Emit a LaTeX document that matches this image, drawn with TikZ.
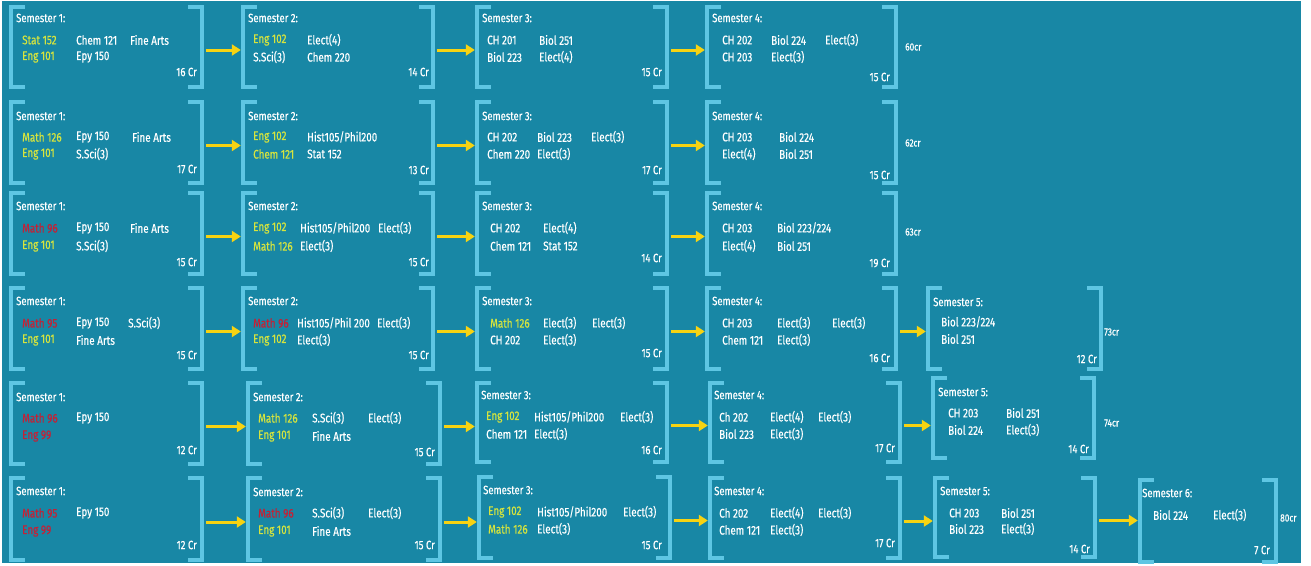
\documentclass[tikz,border=0pt]{standalone}
\usepackage{fontspec}
\setmainfont{Fira Sans}[FakeStretch=0.79, FakeBold=0.4]
\usetikzlibrary{arrows.meta,fit}
\definecolor{bgc}{HTML}{1887A5}
\definecolor{brkc}{HTML}{5EC6E3}
\definecolor{yg}{HTML}{D6E43E}
\definecolor{rd}{HTML}{C42136}
\definecolor{arc}{HTML}{F7D312}
\newcounter{tn}
\tikzset{
 brkline/.style={draw=brkc, line width=4pt, line join=miter},
 hdtext/.style={anchor=west, inner sep=0, text=white, font=\fontsize{12}{14}\selectfont},
 crstext/.style={anchor=west, inner sep=0, text=white, font=\fontsize{12.5}{14}\selectfont},
 crtext/.style={anchor=east, inner sep=0, text=white, font=\fontsize{12}{14}\selectfont},
 tottext/.style={anchor=west, inner sep=0, text=white, font=\fontsize{10.5}{12}\selectfont},
 arr/.style={draw=arc, line width=3pt, -{Triangle[length=9pt,width=11pt]}, shorten >=2pt, shorten <=4pt}
}
\newcommand\semb[5]{%
  \coordinate (#1nw) at (#2,#4); \coordinate (#1se) at (#3,#5);
  \node[inner sep=0, fit=(#1nw)(#1se)] (#1) {};
  \draw[brkline] ([xshift=14pt]#1.north west) -- (#1.north west) -- (#1.south west) -- ([xshift=14pt]#1.south west);
  \draw[brkline] ([xshift=-14pt]#1.north east) -- (#1.north east) -- (#1.south east) -- ([xshift=-14pt]#1.south east);
}
\newcommand\ctext[4][white]{\stepcounter{tn}\node[crstext, text=#1] (t\thetn) at (#2,#3) {#4};}
\newcommand\semhd[3]{\stepcounter{tn}\node[hdtext] (t\thetn) at (#1,#2) {#3};}
\newcommand\credit[3]{\stepcounter{tn}\node[crtext] (t\thetn) at (#1,#2) {#3};}
\newcommand\total[3]{\stepcounter{tn}\node[tottext] (t\thetn) at (#1,#2) {#3};}
\newcommand\link[2]{\draw[arr] ([yshift=-3pt]#1.east) -- ([yshift=-3pt]#1.east -| #2.west);}
\begin{document}
\begin{tikzpicture}[x=1pt,y=-1pt]
\useasboundingbox (0,0) rectangle (1311,565);
\fill[bgc] (2,1) rectangle (1301,563);

% ---------- Row 1 ----------
\semb{aA}{11}{202}{7}{87}
\semhd{16}{18}{Semester 1:}
\ctext[yg]{22}{40}{Stat 152}\ctext{76}{40}{Chem 121}\ctext{130}{40}{Fine Arts}
\ctext[yg]{22}{57}{Eng 101}\ctext{76}{57}{Epy 150}
\credit{197}{72}{16 Cr}
\semb{aB}{243}{433}{7}{87}
\semhd{248}{18}{Semester 2:}
\ctext[yg]{253}{40}{Eng 102}\ctext{307}{40}{Elect(4)}
\ctext{253}{57}{S.Sci(3)}\ctext{307}{57}{Chem 220}
\credit{429}{72}{14 Cr}
\semb{aC}{477}{667}{7}{87}
\semhd{482}{18}{Semester 3:}
\ctext{487}{40}{CH 201}\ctext{539}{40}{Biol 251}
\ctext{487}{57}{Biol 223}\ctext{539}{57}{Elect(4)}
\credit{662}{72}{15 Cr}
\semb{aD}{707}{896}{7}{87}
\semhd{712}{18}{Semester 4:}
\ctext{722}{40}{CH 202}\ctext{771}{40}{Biol 224}\ctext{825}{40}{Elect(3)}
\ctext{722}{57}{CH 203}\ctext{771}{57}{Elect(3)}
\credit{890}{77}{15 Cr}
\total{905}{47}{60cr}
\link{aA}{aB}\link{aB}{aC}\link{aC}{aD}

% ---------- Row 2 ----------
\semb{bA}{11}{202}{102}{183}
\semhd{16}{116}{Semester 1:}
\ctext[yg]{22}{137}{Math 126}\ctext{76}{137}{Epy 150}\ctext{132}{137}{Fine Arts}
\ctext[yg]{22}{154}{Eng 101}\ctext{76}{154}{S.Sci(3)}
\credit{197}{169}{17 Cr}
\semb{bB}{243}{433}{102}{183}
\semhd{248}{116}{Semester 2:}
\ctext[yg]{253}{137}{Eng 102}\ctext{307}{137}{Hist105/Phil200}
\ctext[yg]{253}{154}{Chem 121}\ctext{307}{154}{Stat 152}
\credit{429}{170}{13 Cr}
\semb{bC}{477}{667}{102}{183}
\semhd{482}{116}{Semester 3:}
\ctext{487}{137}{CH 202}\ctext{537}{137}{Biol 223}\ctext{591}{137}{Elect(3)}
\ctext{487}{154}{Chem 220}\ctext{537}{154}{Elect(3)}
\credit{662}{170}{17 Cr}
\semb{bD}{707}{896}{102}{183}
\semhd{712}{116}{Semester 4:}
\ctext{722}{137}{CH 203}\ctext{779}{137}{Biol 224}
\ctext{722}{154}{Elect(4)}\ctext{779}{154}{Biol 251}
\credit{890}{175}{15 Cr}
\total{905}{143}{62cr}
\link{bA}{bB}\link{bB}{bC}\link{bC}{bD}

% ---------- Row 3 ----------
\semb{cA}{11}{202}{193}{274}
\semhd{16}{206}{Semester 1:}
\ctext[rd]{22}{228}{Math 96}\ctext{76}{228}{Epy 150}\ctext{130}{228}{Fine Arts}
\ctext[yg]{22}{246}{Eng 101}\ctext{76}{246}{S.Sci(3)}
\credit{197}{262}{15 Cr}
\semb{cB}{243}{433}{193}{274}
\semhd{248}{206}{Semester 2:}
\ctext[yg]{253}{228}{Eng 102}\ctext{300}{228}{Hist105/Phil200}\ctext{378}{228}{Elect(3)}
\ctext[yg]{253}{246}{Math 126}\ctext{300}{246}{Elect(3)}
\credit{429}{262}{15 Cr}
\semb{cC}{477}{667}{193}{274}
\semhd{482}{206}{Semester 3:}
\ctext{490}{228}{CH 202}\ctext{543}{228}{Elect(4)}
\ctext{490}{246}{Chem 121}\ctext{543}{246}{Stat 152}
\credit{662}{258}{14 Cr}
\semb{cD}{707}{896}{193}{274}
\semhd{712}{206}{Semester 4:}
\ctext{722}{228}{CH 203}\ctext{777}{228}{Biol 223/224}
\ctext{722}{246}{Elect(4)}\ctext{777}{246}{Biol 251}
\credit{890}{263}{19 Cr}
\total{905}{232}{63cr}
\link{cA}{cB}\link{cB}{cC}\link{cC}{cD}

% ---------- Row 4 ----------
\semb{dA}{11}{202}{288}{369}
\semhd{16}{301}{Semester 1:}
\ctext[rd]{22}{323}{Math 95}\ctext{76}{323}{Epy 150}\ctext{128}{323}{S.Sci(3)}
\ctext[yg]{22}{340}{Eng 101}\ctext{76}{340}{Fine Arts}
\credit{197}{355}{15 Cr}
\semb{dB}{243}{433}{288}{369}
\semhd{248}{301}{Semester 2:}
\ctext[rd]{253}{323}{Math 96}\ctext{297}{323}{Hist105/Phil 200}\ctext{377}{323}{Elect(3)}
\ctext[yg]{253}{340}{Eng 102}\ctext{297}{340}{Elect(3)}
\credit{429}{355}{15 Cr}
\semb{dC}{477}{667}{288}{369}
\semhd{482}{301}{Semester 3:}
\ctext[yg]{490}{323}{Math 126}\ctext{543}{323}{Elect(3)}\ctext{592}{323}{Elect(3)}
\ctext{490}{340}{CH 202}\ctext{543}{340}{Elect(3)}
\credit{662}{353}{15 Cr}
\semb{dD}{707}{896}{288}{369}
\semhd{712}{301}{Semester 4:}
\ctext{722}{323}{CH 203}\ctext{777}{323}{Elect(3)}\ctext{832}{323}{Elect(3)}
\ctext{722}{340}{Chem 121}\ctext{777}{340}{Elect(3)}
\credit{890}{358}{16 Cr}
\semb{dE}{928}{1101}{288}{369}
\semhd{933}{302}{Semester 5:}
\ctext{941}{322}{Biol 223/224}
\ctext{941}{339}{Biol 251}
\credit{1097}{359}{12 Cr}
\total{1104}{332}{73cr}
\link{dA}{dB}\link{dB}{dC}\link{dC}{dD}\link{dD}{dE}

% ---------- Row 5 ----------
\semb{eA}{11}{202}{383}{464}
\semhd{16}{397}{Semester 1:}
\ctext[rd]{22}{418}{Math 96}\ctext{76}{418}{Epy 150}
\ctext[rd]{22}{436}{Eng 99}
\credit{197}{450}{12 Cr}
\semb{eB}{248}{440}{383}{464}
\semhd{253}{397}{Semester 2:}
\ctext[yg]{258}{418}{Math 126}\ctext{312}{418}{S.Sci(3)}\ctext{368}{418}{Elect(3)}
\ctext[yg]{258}{436}{Eng 101}\ctext{312}{436}{Fine Arts}
\credit{435}{452}{15 Cr}
\semb{eC}{477}{667}{383}{462}
\semhd{481}{395}{Semester 3:}
\ctext[yg]{486}{417}{Eng 102}\ctext{534}{417}{Hist105/Phil200}\ctext{620}{417}{Elect(3)}
\ctext{486}{434}{Chem 121}\ctext{534}{434}{Elect(3)}
\credit{662}{450}{16 Cr}
\semb{eD}{710}{900}{383}{462}
\semhd{714}{395}{Semester 4:}
\ctext{719}{417}{Ch 202}\ctext{770}{417}{Elect(4)}\ctext{818}{417}{Elect(3)}
\ctext{719}{434}{Biol 223}\ctext{770}{434}{Elect(3)}
\credit{895}{448}{17 Cr}
\semb{eE}{933}{1094}{378}{458}
\semhd{938}{392}{Semester 5:}
\ctext{948}{413}{CH 203}\ctext{1006}{413}{Biol 251}
\ctext{948}{430}{Biol 224}\ctext{1006}{430}{Elect(3)}
\credit{1089}{449}{14 Cr}
\total{1104}{423}{74cr}
\link{eA}{eB}\link{eB}{eC}\link{eC}{eD}\link{eD}{eE}

% ---------- Row 6 ----------
\semb{fA}{11}{202}{478}{560}
\semhd{16}{491}{Semester 1:}
\ctext[rd]{22}{513}{Math 95}\ctext{76}{513}{Epy 150}
\ctext[rd]{22}{531}{Eng 99}
\credit{197}{545}{12 Cr}
\semb{fB}{248}{440}{478}{560}
\semhd{253}{492}{Semester 2:}
\ctext[rd]{258}{513}{Math 96}\ctext{312}{513}{S.Sci(3)}\ctext{368}{513}{Elect(3)}
\ctext[yg]{258}{531}{Eng 101}\ctext{312}{531}{Fine Arts}
\credit{435}{545}{15 Cr}
\semb{fC}{479}{670}{477}{558}
\semhd{483}{490}{Semester 3:}
\ctext[yg]{488}{512}{Eng 102}\ctext{537}{512}{Hist105/Phil200}\ctext{623}{512}{Elect(3)}
\ctext[yg]{488}{529}{Math 126}\ctext{537}{529}{Elect(3)}
\credit{662}{545}{15 Cr}
\semb{fD}{710}{900}{478}{558}
\semhd{714}{491}{Semester 4:}
\ctext{719}{513}{Ch 202}\ctext{770}{513}{Elect(4)}\ctext{818}{513}{Elect(3)}
\ctext{719}{530}{Chem 121}\ctext{770}{530}{Elect(3)}
\credit{895}{543}{17 Cr}
\semb{fE}{935}{1095}{478}{557}
\semhd{940}{491}{Semester 5:}
\ctext{949}{513}{CH 203}\ctext{1001}{513}{Biol 251}
\ctext{949}{529}{Biol 223}\ctext{1001}{529}{Elect(3)}
\credit{1090}{549}{14 Cr}
\semb{fF}{1140}{1276}{480}{562}
\semhd{1142}{493}{Semester 6:}
\ctext{1153}{515}{Biol 224}\ctext{1213}{515}{Elect(3)}
\credit{1270}{550}{7 Cr}
\total{1280}{518}{80cr}
\link{fA}{fB}\link{fB}{fC}\link{fC}{fD}\link{fD}{fE}\link{fE}{fF}
\end{tikzpicture}
\end{document}
